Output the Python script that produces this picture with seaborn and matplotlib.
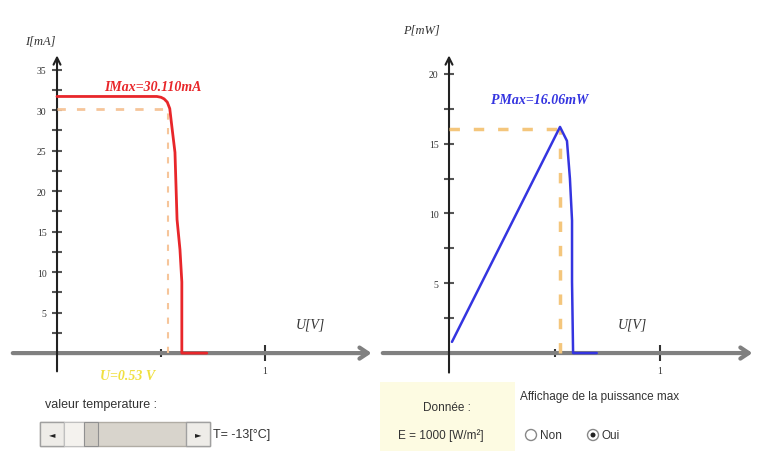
import numpy as np
import pandas as pd
import matplotlib
matplotlib.use("Agg")
import matplotlib.pyplot as plt
from matplotlib.patches import Rectangle, Ellipse
import seaborn as sns

# ---------------- data ----------------
u_iv = [0.0, 0.48, 0.50, 0.515, 0.53, 0.542, 0.552, 0.567, 0.577, 0.591, 0.600, 0.600, 0.72]
i_iv = [31.7, 31.7, 31.6, 31.4, 31.0, 30.2, 28.0, 24.8, 16.5, 12.8, 8.8, 0.0, 0.0]

u_pv = [0.014, 0.526, 0.559, 0.573, 0.583, 0.583, 0.588, 0.70]
p_pv = [0.8, 16.2, 15.2, 12.5, 9.5, 5.1, 0.0, 0.0]

u_max = 0.535
i_max = 30.1
u_pmax = 0.526
p_max = 16.06

left_yticks = [5, 10, 15, 20, 25, 30, 35]
right_yticks = [5, 10, 15, 20]
x_ticks = [1]

label_imax = "IMax=30.110mA"
label_umax = "U=0.53 V"
label_pmax = "PMax=16.06mW"
temperature_text = "T= -13[°C]"
irradiance_text = "E = 1000 [W/m²]"

# ---------------- figure ----------------
sns.set_style("white")
plt.rcParams['font.family'] = ['Liberation Sans', 'DejaVu Sans']

W, H = 759, 452
fig = plt.figure(figsize=(W / 100, H / 100), dpi=100)
fig.patch.set_facecolor("white")


def fx(px):
    return px / W


def fy(py):
    return 1 - py / H


def make_axes(x0, x1, y0, y1):
    return fig.add_axes([fx(x0), fy(y1), fx(x1) - fx(x0), fy(y0) - fy(y1)])


serif = ['Liberation Serif', 'DejaVu Serif']

# ---------- left: I(U) ----------
axL = make_axes(10, 378, 40, 380)
axL.set_xlim(-0.226, 1.543)
axL.set_ylim(-3.2, 38.8)

df_iv = pd.DataFrame({"U": u_iv, "I": i_iv})
sns.lineplot(data=df_iv, x="U", y="I", ax=axL, color="#e8262a", lw=2, sort=False,
             estimator=None, zorder=5)
axL.plot([0, u_max], [i_max, i_max], ls=(0, (3, 4)), color="#f6c59a", lw=2, zorder=3)
axL.plot([u_max, u_max], [0, i_max], ls=(0, (3, 4)), color="#f6c59a", lw=1.5, zorder=3)

# ---------- right: P(U) ----------
axR = make_axes(380, 759, 40, 380)
axR.set_xlim(-0.327, 1.469)
axR.set_ylim(-1.86, 22.5)

df_pv = pd.DataFrame({"U": u_pv, "P": p_pv})
sns.lineplot(data=df_pv, x="U", y="P", ax=axR, color="#3434e0", lw=1.8, sort=False,
             estimator=None, zorder=5)
axR.plot([0, u_pmax], [p_max, p_max], ls=(0, (3, 4)), color="#f4c67c", lw=2.5, zorder=3)
axR.plot([u_pmax, u_pmax], [0, p_max], ls=(0, (3, 4)), color="#f4c67c", lw=2.5, zorder=3)

for ax, yt, ymin in ((axL, left_yticks, -2.6), (axR, right_yticks, -1.6)):
    ax.set_facecolor("none")
    for s in ax.spines.values():
        s.set_visible(False)
    ax.spines['left'].set_position(('data', 0))
    ax.spines['bottom'].set_position(('data', 0))
    ax.set_xlabel("")
    ax.set_ylabel("")
    ax.set_yticks(yt)
    ax.set_yticks([v - 2.5 for v in yt], minor=True)
    ax.set_xticks(x_ticks)
    ax.set_xticks([0.5], minor=True)
    ax.tick_params(axis='y', which='both', left=True, direction='inout', length=7,
                   width=1.5, color="#555555", labelsize=7, pad=4)
    ax.tick_params(axis='x', which='both', bottom=True)
    ax.tick_params(axis='x', which='major', direction='inout', length=12, width=1.5,
                   color="#333333", labelsize=7, pad=3)
    ax.tick_params(axis='x', which='minor', direction='inout', length=6, width=1.5,
                   color="#333333")
    for t in ax.get_yticklabels() + ax.get_xticklabels():
        t.set_family(serif)
        t.set_color("#333333")
    x0, x1 = ax.get_xlim()
    y0, y1 = ax.get_ylim()
    # axes lines with arrow heads
    ax.annotate("", xy=(x1 - 0.01 * (x1 - x0), 0), xytext=(x0, 0),
                arrowprops=dict(arrowstyle="->,head_length=0.6,head_width=0.4",
                                color="#808080", lw=3), zorder=1)
    ax.annotate("", xy=(0, y1 - 0.04 * (y1 - y0)), xytext=(0, ymin),
                arrowprops=dict(arrowstyle="->,head_length=0.5,head_width=0.25",
                                color="#222222", lw=1.5), zorder=2)

# labels on left
axL.text(0.46, 32.9, label_imax, color="#e8262a", fontsize=10, fontweight="bold",
         fontstyle="italic", family=serif, ha="center", va="center", zorder=6)
axL.text(0.34, -2.8, label_umax, color="#f0e040", fontsize=10, fontweight="bold",
         fontstyle="italic", family=serif, ha="center", va="center")
axL.text(-0.08, 38.6, "I[mA]", fontsize=9, fontstyle="italic", family=serif,
         ha="center", va="center", color="#333333")
axL.text(1.22, 3.6, "U[V]", fontsize=10, fontstyle="italic", family=serif,
         ha="center", va="center", color="#333333")

# labels on right
axR.text(0.43, 18.2, label_pmax, color="#3434e0", fontsize=10, fontweight="bold",
         fontstyle="italic", family=serif, ha="center", va="center", zorder=6)
axR.text(-0.13, 23.2, "P[mW]", fontsize=9, fontstyle="italic", family=serif,
         ha="center", va="center", color="#333333")
axR.text(0.87, 2.1, "U[V]", fontsize=10, fontstyle="italic", family=serif,
         ha="center", va="center", color="#333333")

# ---------- bottom widgets ----------
fig.text(fx(45), fy(405), "valeur temperature :", fontsize=9, color="#333333",
         va="center", ha="left")
# slider
fig.patches.append(Rectangle((fx(40), fy(447)), fx(210) - fx(40), fy(423) - fy(447),
                             transform=fig.transFigure, facecolor="#d8d4cc",
                             edgecolor="#b0aca4", lw=1))
for bx in (40, 186):
    fig.patches.append(Rectangle((fx(bx), fy(447)), fx(24), fy(423) - fy(447),
                                 transform=fig.transFigure, facecolor="#eeece8",
                                 edgecolor="#a0a0a0", lw=1))
fig.patches.append(Rectangle((fx(64), fy(447)), fx(20), fy(423) - fy(447),
                             transform=fig.transFigure, facecolor="#f4f2ee",
                             edgecolor="#c0c0c0", lw=0.8))
fig.patches.append(Rectangle((fx(84), fy(447)), fx(14), fy(423) - fy(447),
                             transform=fig.transFigure, facecolor="#d0ccc4",
                             edgecolor="#909090", lw=0.8))
fig.text(fx(52), fy(435), "◄", fontsize=6, ha="center", va="center", color="#222222",
         family=['DejaVu Sans'])
fig.text(fx(198), fy(435), "►", fontsize=6, ha="center", va="center", color="#222222",
         family=['DejaVu Sans'])
fig.text(fx(213), fy(435), temperature_text, fontsize=9, ha="left", va="center",
         color="#333333")

# data box
fig.patches.append(Rectangle((fx(380), fy(452)), fx(515) - fx(380), fy(383) - fy(452),
                             transform=fig.transFigure, facecolor="#fdfbe2",
                             edgecolor="none"))
fig.text(fx(447), fy(408), "Donnée :", fontsize=8.5, ha="center", va="center",
         color="#333333")
fig.text(fx(441), fy(436), irradiance_text, fontsize=8.5, ha="center", va="center",
         color="#333333")
fig.text(fx(520), fy(397), "Affichage de la puissance max", fontsize=8.5, ha="left",
         va="center", color="#333333")
for cx, lab, sel in ((531, "Non", False), (593, "Oui", True)):
    fig.patches.append(Ellipse((fx(cx), fy(436)), width=11 / W, height=11 / H,
                               transform=fig.transFigure, facecolor="white",
                               edgecolor="#888888", lw=1))
    if sel:
        fig.patches.append(Ellipse((fx(cx), fy(436)), width=5 / W, height=5 / H,
                                   transform=fig.transFigure, facecolor="#222222",
                                   edgecolor="none"))
    fig.text(fx(cx + 9), fy(436), lab, fontsize=8.5, ha="left", va="center",
             color="#333333")

fig.savefig("out.png", dpi=100, facecolor="white")
